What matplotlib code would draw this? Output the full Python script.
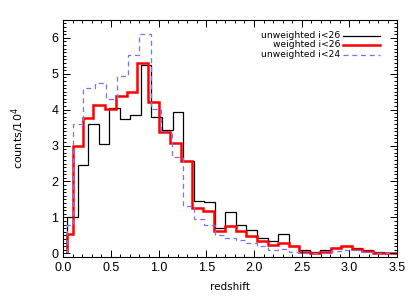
import matplotlib
matplotlib.use('Agg')
import matplotlib.pyplot as plt
from matplotlib.ticker import MultipleLocator

plt.rcParams['font.family'] = ['Liberation Sans', 'DejaVu Sans']

# bin edges (redshift)
black_edges = [0.042, 0.153, 0.263, 0.374, 0.484, 0.595, 0.705, 0.816, 0.926, 1.037,
               1.147, 1.258, 1.368, 1.479, 1.589, 1.700, 1.810, 1.921, 2.031, 2.142,
               2.252, 2.363, 2.473, 2.584, 2.694, 2.805, 2.915, 3.026, 3.136, 3.247,
               3.357, 3.468, 3.578]
red_edges = [0.044, 0.102, 0.211, 0.318, 0.439, 0.555, 0.667, 0.773, 0.886, 1.000,
             1.116, 1.234, 1.352, 1.465, 1.579, 1.700, 1.810, 1.921, 2.031, 2.142,
             2.252, 2.363, 2.473, 2.584, 2.694, 2.805, 2.915, 3.026, 3.136, 3.247,
             3.357, 3.468, 3.578]
blue_edges = [0.044, 0.102, 0.211, 0.334, 0.449, 0.562, 0.681, 0.797, 0.918, 1.023,
              1.139, 1.260, 1.368, 1.481, 1.592, 1.700, 1.810, 1.921, 2.031, 2.142,
              2.252, 2.363, 2.473, 2.584, 2.694, 2.805, 2.915, 3.026, 3.136, 3.247,
              3.357, 3.468, 3.578]

# counts / 1e4
unweighted_26 = [1.00, 2.45, 3.60, 3.05, 4.05, 3.73, 3.85, 5.25, 3.80, 3.43,
                 3.94, 2.58, 1.47, 1.42, 0.70, 1.14, 0.80, 0.66, 0.42, 0.33,
                 0.53, 0.21, 0.09, 0.03, 0.08, 0.16, 0.20, 0.14, 0.08, 0.03,
                 0.01, 0.00]
weighted_26 = [0.55, 3.00, 3.78, 4.13, 4.01, 4.37, 4.50, 5.30, 4.20, 3.38,
               3.07, 2.57, 1.27, 1.19, 0.61, 0.76, 0.61, 0.47, 0.33, 0.23,
               0.30, 0.19, 0.05, 0.02, 0.05, 0.14, 0.19, 0.12, 0.07, 0.02,
               0.00, 0.00]
unweighted_24 = [0.80, 3.60, 4.60, 4.74, 4.30, 4.95, 5.51, 6.10, 4.02, 3.35,
                 2.68, 1.32, 0.95, 0.80, 0.52, 0.42, 0.37, 0.30, 0.20, 0.09,
                 0.11, 0.05, 0.00, 0.00, 0.02, 0.06, 0.10, 0.09, 0.04, 0.01,
                 0.00, 0.00]

labels = ['unweighted i<26', 'weighted i<26', 'unweighted i<24']

fig = plt.figure(figsize=(4.15, 2.97), dpi=100)
ax = fig.add_axes([0.152, 0.135, 0.805, 0.798])

ax.stairs(unweighted_26, black_edges, color='black', lw=0.9)
ax.stairs(weighted_26, red_edges, color='red', lw=1.8)
ax.stairs(unweighted_24, blue_edges, color='#7373ff', lw=0.9, ls=(0, (4, 3)))

ax.set_xlim(0, 3.5)
ax.set_ylim(-0.1, 6.5)
ax.xaxis.set_major_locator(MultipleLocator(0.5))
ax.xaxis.set_minor_locator(MultipleLocator(0.1))
ax.yaxis.set_major_locator(MultipleLocator(1))
ax.yaxis.set_minor_locator(MultipleLocator(0.1))
ax.xaxis.set_major_formatter(plt.FormatStrFormatter('%.1f'))
ax.tick_params(which='both', direction='in', top=True, right=True,
               labelsize=9, width=0.7)
ax.tick_params(which='major', length=5)
ax.tick_params(which='minor', length=2.5)
for s in ax.spines.values():
    s.set_linewidth(0.8)

ax.set_xlabel('redshift', fontsize=7.5, family='DejaVu Sans')
ax.set_ylabel('counts/10$^4$', fontsize=8, family='DejaVu Sans')
ax.xaxis.set_label_coords(0.5, -0.105)
ax.yaxis.set_label_coords(-0.108, 0.5)

# legend drawn by hand: right-aligned text, sample line after it
styles = [dict(color='black', lw=0.9),
          dict(color='red', lw=1.8),
          dict(color='#7373ff', lw=0.9, ls=(0, (4, 3)))]
rows = [0.936, 0.896, 0.856]
for lab, st, y in zip(labels, styles, rows):
    ax.text(0.831, y, lab, transform=ax.transAxes, ha='right', va='center',
            fontsize=6.6, family='DejaVu Sans')
    ax.plot([0.838, 0.949], [y - 0.004, y - 0.004], transform=ax.transAxes, **st)

fig.savefig('out.png', dpi=100)
